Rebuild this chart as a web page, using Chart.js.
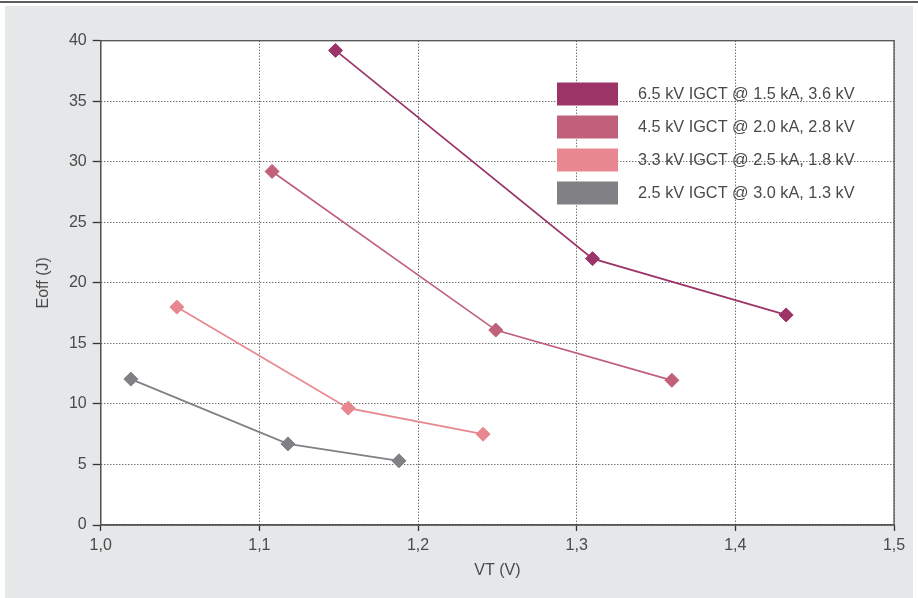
<!DOCTYPE html>
<html>
<head>
<meta charset="utf-8">
<script src="https://cdn.jsdelivr.net/npm/chart.js@4.4.0/dist/chart.umd.min.js"></script>
<style>
  html, body { margin: 0; padding: 0; background: #fff; }
  #wrap { position: relative; width: 918px; height: 598px; overflow: hidden; }
  #topline { position: absolute; left: 0; top: 1px; width: 918px; height: 2px; background: #5e5e5e; }
  #panel { position: absolute; left: 5px; top: 6px; width: 908px; height: 592px; background: #e6e7e8; }
  #chart { position: absolute; left: 0; top: 0; }
</style>
</head>
<body>
<div id="wrap">
  <div id="topline"></div>
  <div id="panel"></div>
  <canvas id="chart" width="918" height="598"></canvas>
</div>
<script>
  const seriesLabels = [
    '6.5 kV IGCT @ 1.5 kA, 3.6 kV',
    '4.5 kV IGCT @ 2.0 kA, 2.8 kV',
    '3.3 kV IGCT @ 2.5 kA, 1.8 kV',
    '2.5 kV IGCT @ 3.0 kA, 1.3 kV'
  ];
  const seriesColors = ['#9c3468', '#c1607a', '#e8878f', '#808085'];

  // VT (V) and Eoff values per series
  const vt65 = [1.148, 1.31, 1.432];
  const eoff65 = [39.2, 22.0, 17.35];
  const vt45 = [1.108, 1.249, 1.36];
  const eoff45 = [29.2, 16.1, 11.95];
  const vt33 = [1.048, 1.156, 1.241];
  const eoff33 = [18.0, 9.65, 7.5];
  const vt25 = [1.019, 1.118, 1.188];
  const eoff25 = [12.05, 6.7, 5.3];

  const xTickLabels = ['1,0', '1,1', '1,2', '1,3', '1,4', '1,5'];
  const yTickValues = [0, 5, 10, 15, 20, 25, 30, 35, 40];

  const xs = [vt65, vt45, vt33, vt25];
  const ys = [eoff65, eoff45, eoff33, eoff25];

  const fontFamily = "'Liberation Sans', Arial, sans-serif";
  const textColor = '#4a4a4a';

  const datasets = seriesLabels.map((label, i) => ({
    label: label,
    data: xs[i].map((x, j) => ({ x: x, y: ys[i][j] })),
    borderColor: seriesColors[i],
    backgroundColor: seriesColors[i],
    borderWidth: 1.7,
    pointStyle: 'rectRot',
    pointRadius: 7,
    pointBorderWidth: 1,
    pointHoverRadius: 7,
    tension: 0
  }));

  const plotFrame = {
    id: 'plotFrame',
    beforeDraw(chart) {
      const { ctx, chartArea: a } = chart;
      ctx.save();
      ctx.fillStyle = '#ffffff';
      ctx.fillRect(a.left, a.top, a.right - a.left, a.bottom - a.top);
      ctx.restore();
    },
    beforeDatasetsDraw(chart) {
      const { ctx, chartArea: a } = chart;
      ctx.save();
      ctx.strokeStyle = '#555';
      ctx.lineWidth = 1.3;
      ctx.strokeRect(a.left, a.top, a.right - a.left, a.bottom - a.top);
      ctx.restore();
    }
  };

  const boxLegend = {
    id: 'boxLegend',
    afterDatasetsDraw(chart) {
      const { ctx } = chart;
      ctx.save();
      ctx.font = '16.3px ' + fontFamily;
      ctx.textBaseline = 'middle';
      ctx.textAlign = 'left';
      chart.data.datasets.forEach((ds, i) => {
        const cy = 94 + i * 33;
        ctx.fillStyle = ds.backgroundColor;
        ctx.fillRect(557, cy - 11.5, 61, 23);
        ctx.fillStyle = textColor;
        ctx.fillText(ds.label, 638, cy + 1);
      });
      ctx.restore();
    }
  };

  new Chart(document.getElementById('chart'), {
    type: 'line',
    data: { datasets: datasets },
    options: {
      responsive: false,
      animation: false,
      layout: { padding: { left: 0, top: 40.7, right: 24, bottom: 0 } },
      plugins: {
        legend: { display: false },
        tooltip: { enabled: false }
      },
      scales: {
        x: {
          type: 'linear',
          min: 1.0,
          max: 1.5,
          afterFit(scale) { scale.height = 73; },
          afterBuildTicks(scale) {
            scale.ticks = xTickLabels.map((t, i) => ({ value: 1 + i * 0.1 }));
          },
          ticks: {
            padding: 5,
            color: textColor,
            font: { family: fontFamily, size: 16 },
            maxRotation: 0,
            callback: (v, i) => xTickLabels[i]
          },
          grid: {
            color: '#333',
            lineWidth: 1,
            tickLength: 6,
            tickColor: '#333',
            tickWidth: 1.3,
            tickBorderDash: []
          },
          border: { display: true, color: '#555', width: 1.3, dash: [1, 2] },
          title: {
            display: true,
            text: 'VT (V)',
            color: textColor,
            font: { family: "'Liberation Sans Narrow', " + fontFamily, size: 16 },
            padding: { top: 0, bottom: 18 }
          }
        },
        y: {
          type: 'linear',
          min: 0,
          max: 40,
          afterFit(scale) { scale.width = 100.7; },
          afterBuildTicks(scale) {
            scale.ticks = yTickValues.map(v => ({ value: v }));
          },
          ticks: {
            padding: 6,
            color: textColor,
            font: { family: fontFamily, size: 16 }
          },
          grid: {
            color: '#333',
            lineWidth: 1,
            tickLength: 8,
            tickColor: '#333',
            tickWidth: 1.3,
            tickBorderDash: []
          },
          border: { display: true, color: '#555', width: 1.3, dash: [1, 2] },
          title: {
            display: true,
            text: 'Eoff (J)',
            color: textColor,
            font: { family: "'Liberation Sans Narrow', " + fontFamily, size: 16 },
            padding: { top: 34, bottom: 0 }
          }
        }
      }
    },
    plugins: [plotFrame, boxLegend]
  });
</script>
</body>
</html>
